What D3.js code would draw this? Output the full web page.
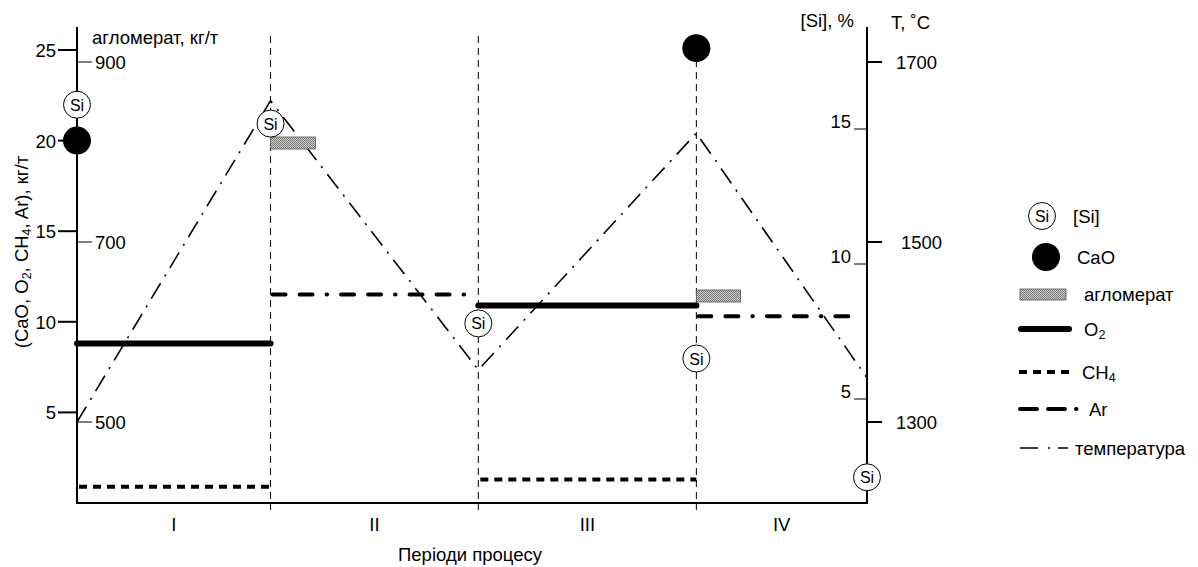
<!DOCTYPE html>
<html>
<head>
<meta charset="utf-8">
<script src="https://cdn.jsdelivr.net/npm/d3@7"></script>
<style>
  body { margin: 0; background: #fff; }
  svg { font-family: "Liberation Sans", Arial, sans-serif; }
</style>
</head>
<body>
<div id="chart"></div>
<script>
// process time in % of heat; period boundaries
const periods = ["I", "II", "III", "IV"];
const periodEdges = [0, 24.5, 50.8, 78.4, 100];

// axis ticks
const leftTicks = [5, 10, 15, 20, 25];
const aglTicks = [500, 700, 900];
const siTicks = [5, 10, 15];
const tempTicks = [1300, 1500, 1700];

// series
const o2 = [{ from: 0, to: 24.5, v: 8.8 }, { from: 50.8, to: 78.4, v: 10.9 }];
const ch4 = [{ from: 0, to: 24.5, v: 0.9 }, { from: 50.8, to: 78.4, v: 1.3 }];
const ar = [{ from: 24.5, to: 50.8, v: 11.5 }, { from: 78.4, to: 100, v: 10.3 }];
const cao = [{ x: 0, v: 20 }, { x: 78.4, v: 25.1 }];
const agl = [{ from: 24.5, to: 30.2, v: 810 }, { from: 78.4, to: 84, v: 640 }];
const temperature = [
  { x: 0, t: 1300 }, { x: 24.5, t: 1657 }, { x: 50.8, t: 1358 },
  { x: 78.4, t: 1621 }, { x: 100, t: 1349 }
];
const si = [
  { x: 0, v: 15.9 }, { x: 24.5, v: 15.2 }, { x: 50.8, v: 7.8 },
  { x: 78.4, v: 6.5 }, { x: 100, v: 2.1 }
];

const width = 1198, height = 567;
const fs = 18.5;
const svg = d3.select("#chart").append("svg")
  .attr("width", width).attr("height", height);

const defs = svg.append("defs");
const pat = defs.append("pattern").attr("id", "hatch")
  .attr("width", 2).attr("height", 2).attr("patternUnits", "userSpaceOnUse");
pat.append("rect").attr("width", 2).attr("height", 2).attr("fill", "#d0d0d0");
pat.append("rect").attr("width", 1).attr("height", 1).attr("fill", "#777");
pat.append("rect").attr("x", 1).attr("y", 1).attr("width", 1).attr("height", 1).attr("fill", "#777");

//scales
const x = d3.scaleLinear().domain([0, 100]).range([77, 867]);
const yL = d3.scaleLinear().domain([0, 25]).range([503, 50]);
const yAgl = d3.scaleLinear().domain([500, 900]).range([422, 62]);
const yT = d3.scaleLinear().domain([1300, 1700]).range([422, 62]);
const ySi = d3.scaleLinear().domain([5, 15]).range([399, 129]);

const axisTop = 27, axisBottom = 503;

//period dashed lines
svg.selectAll(".period-line").data(periodEdges.slice(1, -1)).join("line")
  .attr("x1", d => x(d)).attr("x2", d => x(d))
  .attr("y1", 36).attr("y2", axisBottom)
  .attr("stroke", "#000").attr("stroke-width", 1)
  .attr("stroke-dasharray", "7,5");
svg.selectAll(".period-tick").data(periodEdges.slice(1, -1)).join("line")
  .attr("x1", d => x(d)).attr("x2", d => x(d))
  .attr("y1", axisBottom).attr("y2", axisBottom + 7)
  .attr("stroke", "#000").attr("stroke-width", 1);

//axes lines
svg.append("line").attr("x1", x(0)).attr("x2", x(0)).attr("y1", axisTop).attr("y2", axisBottom)
  .attr("stroke", "#000").attr("stroke-width", 2);
svg.append("line").attr("x1", x(100)).attr("x2", x(100)).attr("y1", axisTop).attr("y2", axisBottom)
  .attr("stroke", "#000").attr("stroke-width", 2);
svg.append("line").attr("x1", x(0) - 1).attr("x2", x(100) + 1).attr("y1", axisBottom).attr("y2", axisBottom)
  .attr("stroke", "#000").attr("stroke-width", 2);

//left ticks
const lt = svg.append("g").selectAll("g").data(leftTicks).join("g");
lt.append("line").attr("x1", 58).attr("x2", x(0)).attr("y1", d => yL(d)).attr("y2", d => yL(d))
  .attr("stroke", "#000").attr("stroke-width", 2);
lt.append("text").attr("x", 56).attr("y", d => yL(d) + 7).attr("text-anchor", "end")
  .attr("font-size", fs).text(d => d);

//agglomerate ticks
const at = svg.append("g").selectAll("g").data(aglTicks).join("g");
at.append("line").attr("x1", x(0)).attr("x2", 92).attr("y1", d => yAgl(d)).attr("y2", d => yAgl(d))
  .attr("stroke", "#000").attr("stroke-width", 1);
at.append("text").attr("x", 95).attr("y", d => yAgl(d) + 7)
  .attr("font-size", fs).text(d => d);
svg.append("text").attr("x", 92).attr("y", 44).attr("font-size", fs).text("агломерат, кг/т");

//Si ticks
const st = svg.append("g").selectAll("g").data(siTicks).join("g");
st.append("line").attr("x1", 854).attr("x2", x(100)).attr("y1", d => ySi(d)).attr("y2", d => ySi(d))
  .attr("stroke", "#000").attr("stroke-width", 1);
st.append("text").attr("x", 851).attr("y", d => ySi(d) - 1).attr("text-anchor", "end")
  .attr("font-size", fs).text(d => d);
svg.append("text").attr("x", 854).attr("y", 27).attr("text-anchor", "end")
  .attr("font-size", fs).text("[Si], %");

//temperature ticks
const tt = svg.append("g").selectAll("g").data(tempTicks).join("g");
tt.append("line").attr("x1", x(100)).attr("x2", 882).attr("y1", d => yT(d)).attr("y2", d => yT(d))
  .attr("stroke", "#000").attr("stroke-width", 2);
tt.append("text").attr("x", d => d === 1500 ? 901 : 896).attr("y", d => yT(d) + 7)
  .attr("font-size", fs).text(d => d);
svg.append("text").attr("x", 891).attr("y", 29).attr("font-size", fs).text("T, ˚C");

//left axis title
const sub = 12.5;
const lTitle = svg.append("text").attr("transform", "translate(28, 252) rotate(-90)")
  .attr("text-anchor", "middle").attr("font-size", fs);
lTitle.append("tspan").text("(CaO, O");
lTitle.append("tspan").attr("font-size", sub).attr("dy", 3).text("2");
lTitle.append("tspan").attr("dy", -3).text(", CH");
lTitle.append("tspan").attr("font-size", sub).attr("dy", 3).text("4");
lTitle.append("tspan").attr("dy", -3).text(", Ar), кг/т");

//period labels
svg.selectAll(".period-label").data(periods).join("text")
  .attr("x", (d, i) => (x(periodEdges[i]) + x(periodEdges[i + 1])) / 2)
  .attr("y", 531).attr("text-anchor", "middle").attr("font-size", fs).text(d => d);
svg.append("text").attr("x", 470).attr("y", 561).attr("text-anchor", "middle")
  .attr("font-size", fs).text("Періоди процесу");

//temperature line
svg.append("path").datum(temperature)
  .attr("d", d3.line().x(d => x(d.x)).y(d => yT(d.t)))
  .attr("fill", "none").attr("stroke", "#000").attr("stroke-width", 1.6)
  .attr("stroke-dasharray", "18,8,2,8");

//CH4
svg.selectAll(".ch4").data(ch4).join("line")
  .attr("x1", d => x(d.from) + 2).attr("x2", d => x(d.to))
  .attr("y1", d => yL(d.v)).attr("y2", d => yL(d.v))
  .attr("stroke", "#000").attr("stroke-width", 4).attr("stroke-dasharray", "8,6");

//Ar
svg.selectAll(".ar").data(ar).join("line")
  .attr("x1", d => x(d.from) + 2).attr("x2", d => x(d.to) - 10)
  .attr("y1", d => yL(d.v)).attr("y2", d => yL(d.v))
  .attr("stroke", "#000").attr("stroke-width", 4).attr("stroke-linecap", "round")
  .attr("stroke-dasharray", "13,14,13,14,0.5,14");

//O2
svg.selectAll(".o2").data(o2).join("line")
  .attr("x1", d => x(d.from)).attr("x2", d => x(d.to))
  .attr("y1", d => yL(d.v)).attr("y2", d => yL(d.v))
  .attr("stroke", "#000").attr("stroke-width", 6).attr("stroke-linecap", "round");

//agglomerate
svg.selectAll(".agl").data(agl).join("rect")
  .attr("x", d => x(d.from)).attr("width", d => x(d.to) - x(d.from))
  .attr("y", d => yAgl(d.v) - 6).attr("height", 12)
  .attr("fill", "url(#hatch)").attr("stroke", "#555").attr("stroke-width", 0.8);

//CaO
svg.selectAll(".cao").data(cao).join("circle")
  .attr("cx", d => x(d.x)).attr("cy", d => yL(d.v)).attr("r", 14).attr("fill", "#000");

//Si markers
function siMarker(g, cx, cy) {
  g.append("circle").attr("cx", cx).attr("cy", cy).attr("r", 13.5)
    .attr("fill", "#fff").attr("stroke", "#000").attr("stroke-width", 1);
  g.append("text").attr("x", cx).attr("y", cy + 6).attr("text-anchor", "middle")
    .attr("font-size", 16).text("Si");
}
const siG = svg.append("g");
si.forEach(d => siMarker(siG, x(d.x), ySi(d.v)));

//legend
const lg = svg.append("g");
siMarker(lg, 1042, 216);
lg.append("text").attr("x", 1073).attr("y", 223).attr("font-size", fs).text("[Si]");
lg.append("circle").attr("cx", 1046).attr("cy", 257).attr("r", 14).attr("fill", "#000");
lg.append("text").attr("x", 1077).attr("y", 264).attr("font-size", fs).text("CaO");
lg.append("rect").attr("x", 1020).attr("y", 289).attr("width", 46).attr("height", 11)
  .attr("fill", "url(#hatch)").attr("stroke", "#555").attr("stroke-width", 0.8);
lg.append("text").attr("x", 1084).attr("y", 301).attr("font-size", fs).text("агломерат");
lg.append("line").attr("x1", 1021).attr("x2", 1069).attr("y1", 329).attr("y2", 329)
  .attr("stroke", "#000").attr("stroke-width", 6).attr("stroke-linecap", "round");
const o2t = lg.append("text").attr("x", 1084).attr("y", 336).attr("font-size", fs);
o2t.append("tspan").text("O");
o2t.append("tspan").attr("font-size", sub).attr("dy", 3).text("2");
lg.append("line").attr("x1", 1019).attr("x2", 1071).attr("y1", 372).attr("y2", 372)
  .attr("stroke", "#000").attr("stroke-width", 4).attr("stroke-dasharray", "8,6");
const ch4t = lg.append("text").attr("x", 1082).attr("y", 379).attr("font-size", fs);
ch4t.append("tspan").text("CH");
ch4t.append("tspan").attr("font-size", sub).attr("dy", 3).text("4");
lg.append("line").attr("x1", 1020).attr("x2", 1080).attr("y1", 409).attr("y2", 409)
  .attr("stroke", "#000").attr("stroke-width", 4).attr("stroke-linecap", "round")
  .attr("stroke-dasharray", "17,11,17,11,0.5,20");
lg.append("text").attr("x", 1089).attr("y", 416).attr("font-size", fs).text("Ar");
lg.append("line").attr("x1", 1020).attr("x2", 1068).attr("y1", 448).attr("y2", 448)
  .attr("stroke", "#000").attr("stroke-width", 1.6).attr("stroke-dasharray", "18,10,2,8,11,20");
lg.append("text").attr("x", 1075).attr("y", 455).attr("font-size", fs).text("температура");
</script>
</body>
</html>
